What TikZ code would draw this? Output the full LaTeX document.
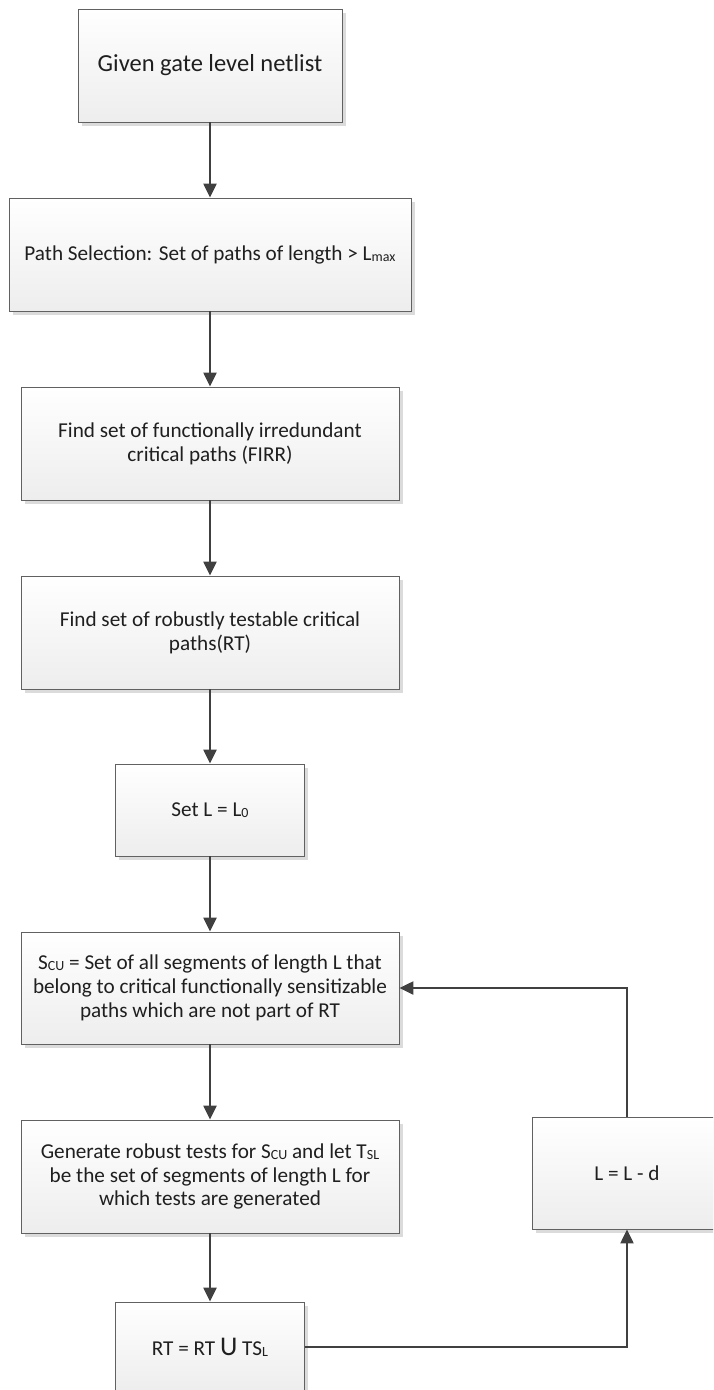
\documentclass[tikz,border=0pt]{standalone}
\usepackage{fontspec}
\setmainfont{Carlito}
\usetikzlibrary{arrows.meta,shadows}

% small lowered text for index letters
\newcommand{\idx}[1]{\raisebox{-1pt}{\fontsize{14}{14}\selectfont #1}}

\begin{document}
\begin{tikzpicture}[x=1pt,y=-1pt,
  proc/.style={draw=black!62, line width=0.8pt, shading=axis,
    top color=white, bottom color=black!7, align=center,
    inner sep=0pt, minimum height=113pt, text=black!88,
    font=\fontsize{21.2}{23.8}\selectfont,
    drop shadow={shadow xshift=3.5pt, shadow yshift=-3.5pt, fill=black!14, opacity=1}},
  arr/.style={draw=black!75, line width=2.2pt,
    -{Triangle[length=14pt,width=13pt]}},
  link/.style={draw=black!75, line width=2.2pt}]

\useasboundingbox (0,0) rectangle (713,1390);

\begin{scope}
\clip (0,0) rectangle (713,1390);

\node[proc, minimum width=264pt, font=\fontsize{24.5}{28}\selectfont] (b1) at (210,65.5) {Given gate level netlist};
\node[proc, minimum width=402pt] (b2) at (210,254.5) {Path Selection: Set of paths of length \textgreater{} L\idx{max}};
\node[proc, minimum width=378pt] (b3) at (210,443.5) {Find set of functionally irredundant\\critical paths (FIRR)};
\node[proc, minimum width=378pt] (b4) at (210,632.5) {Find set of robustly testable critical\\paths(RT)};
\node[proc, minimum width=189pt, minimum height=92pt] (b5) at (210,810) {Set L = L\idx{0}};
\node[proc, minimum width=378pt, minimum height=112pt] (b6) at (210,988) {S\idx{CU} = Set of all segments of length L that\\belong to critical functionally sensitizable\\paths which are not part of RT};
\node[proc, minimum width=378pt] (b7) at (210,1176.5) {Generate robust tests for S\idx{CU} and let T\idx{SL}\\be the set of segments of length L for\\which tests are generated};
\node[proc, minimum width=189pt, minimum height=90pt] (b8) at (210,1347) {RT = RT {\fontsize{27}{27}\selectfont U} TS\idx{L}};
\node[proc, minimum width=190pt, minimum height=112pt] (b9) at (627,1173) {L = L - d};

\draw[arr] (b1) -- (b2);
\draw[arr] (b2) -- (b3);
\draw[arr] (b3) -- (b4);
\draw[arr] (b4) -- (b5);
\draw[arr] (b5) -- (b6);
\draw[arr] (b6) -- (b7);
\draw[arr] (b7) -- (b8);
\draw[arr] (b8.east) -| (b9.south);
\draw[arr] (b9.north) |- (b6.east);
\end{scope}
\end{tikzpicture}
\end{document}
